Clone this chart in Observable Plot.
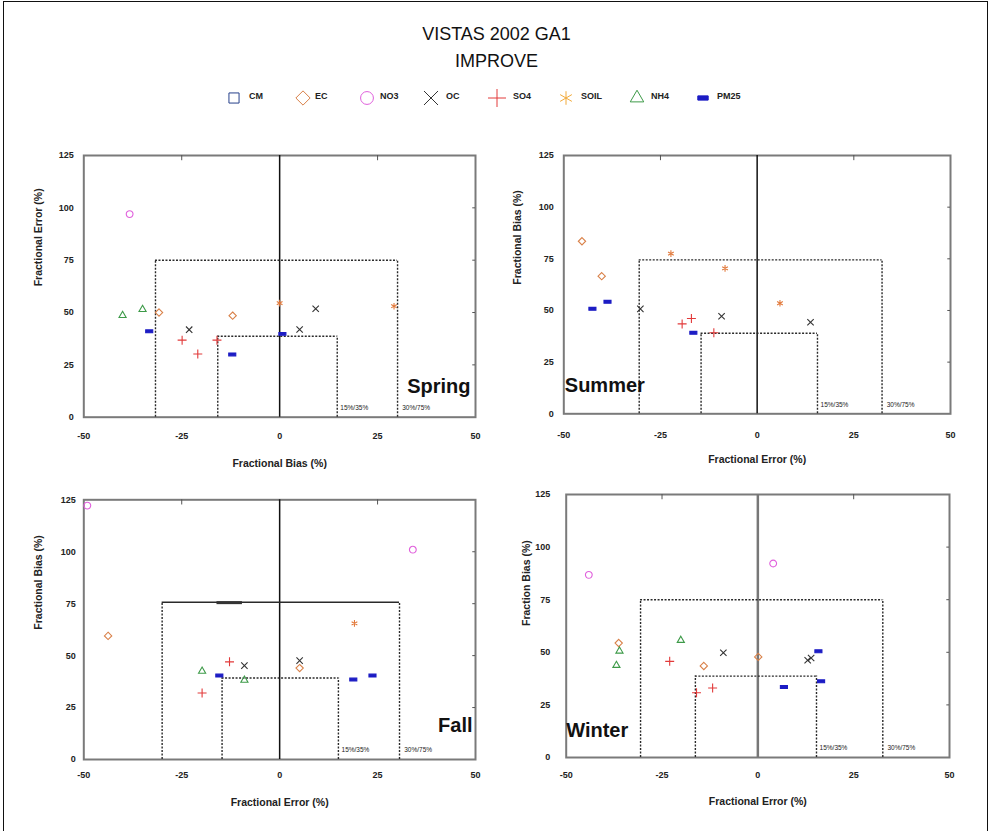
<!DOCTYPE html>
<html>
<head>
<meta charset="utf-8">
<script src="https://cdn.jsdelivr.net/npm/d3@7"></script>
<script src="https://cdn.jsdelivr.net/npm/@observablehq/plot@0.6"></script>
<style>
  html, body { margin: 0; padding: 0; background: #fff; }
  #page { position: relative; width: 993px; height: 831px; overflow: hidden; font-family: "Liberation Sans", Arial, sans-serif; }
  #border { position: absolute; left: 3px; top: 1px; width: 985px; height: 840px; border: 1.5px solid #111; box-sizing: border-box; }
  .title { position: absolute; left: 0; width: 993px; text-align: center; font-size: 18px; color: #111; }
  .leg { position: absolute; top: 89px; }
  .legtext { position: absolute; top: 91px; font-size: 9px; font-weight: bold; color: #222; }
  .panel { position: absolute; }
</style>
</head>
<body>
<div id="page">
  <div id="border"></div>
  <div class="title" style="top:24px">VISTAS 2002 GA1</div>
  <div class="title" style="top:51px">IMPROVE</div>
</div>
<script>
// ---- data ----
const seriesNames = ["CM", "EC", "NO3", "OC", "SO4", "SOIL", "NH4", "PM25"];
const seasons = ["Spring", "Summer", "Fall", "Winter"];
const xTicks = [-50, -25, 0, 25, 50];
const yTicks = [0, 25, 50, 75, 100, 125];
const criteriaLabels = ["15%/35%", "30%/75%"];

// points: [series, bias/error x, y]
const springPoints = [
  ["NO3", -38.3, 97], ["NH4", -40.1, 48.6], ["NH4", -35, 51.5], ["EC", -30.8, 50],
  ["PM25", -33.3, 41], ["OC", -23.1, 41.8], ["SO4", -24.9, 36.8], ["SO4", -20.9, 30.2],
  ["SO4", -16, 36.8], ["EC", -12, 48.5], ["PM25", -12.1, 30], ["SOIL", 0, 54.5],
  ["PM25", 0.7, 39.8], ["OC", 9.2, 51.8], ["OC", 5.1, 41.9], ["SOIL", 29.2, 53]
];
const summerPoints = [
  ["EC", -45.3, 83.5], ["EC", -40.2, 66.6], ["PM25", -42.6, 50.8], ["PM25", -38.7, 54.2],
  ["OC", -30.2, 50.8], ["SOIL", -22.3, 77.5], ["SOIL", -8.3, 70.4], ["SOIL", 5.9, 53.5],
  ["SO4", -19.4, 43.5], ["SO4", -17, 46.1], ["PM25", -16.5, 39.2], ["SO4", -11.2, 39.2],
  ["OC", -9.2, 47.2], ["OC", 13.8, 44.3]
];
const fallPoints = [
  ["NO3", -49.1, 122.2], ["NO3", 34, 101], ["EC", -43.8, 59.5], ["SOIL", 19.1, 65.5],
  ["NH4", -19.8, 42.5], ["SO4", -12.8, 47], ["SO4", -19.8, 32], ["PM25", -15.4, 40.4],
  ["OC", -9, 45.2], ["NH4", -9, 38.2], ["OC", 5.1, 47.6], ["EC", 5.1, 44],
  ["PM25", 18.8, 38.5], ["PM25", 23.7, 40.4]
];
const winterPoints = [
  ["NO3", -44.1, 86.8], ["NO3", 4, 92.2], ["EC", -36.3, 54.4], ["NH4", -36.1, 50.6],
  ["NH4", -36.9, 43.8], ["NH4", -20.1, 55.7], ["SO4", -23, 45.7], ["EC", -14.1, 43.5],
  ["OC", -9, 49.8], ["EC", 0.1, 47.8], ["SO4", -16, 30.8], ["SO4", -11.8, 33],
  ["PM25", 6.8, 33.5], ["OC", 13, 46.2], ["OC", 13.9, 47.3], ["PM25", 15.8, 50.5],
  ["PM25", 16.5, 36.2]
];
// criteria boxes: [left, right, top]
const springOuter = [-31.7, 30.1, 75], springInner = [-15.8, 14.7, 38.7];
const summerOuter = [-30.5, 32.3, 74.5], summerInner = [-14.5, 15.6, 39];
const fallOuter = [-30, 30.6, 75.7], fallInner = [-14.7, 15, 39.2];
const winterOuter = [-30.6, 32.6, 75], winterInner = [-16.3, 15.3, 38.7];

// ---- styles ----
const seriesColors = {
  CM: "#27408b", EC: "#d98048", NO3: "#e060dc", OC: "#333333",
  SO4: "#e23a3a", SOIL: "#e27a3c", NH4: "#3d9a48", PM25: "#1c1cc4"
};
const legendColors = { ...seriesColors, SOIL: "#f2aa3a" };
const dashSymbol = {
  draw(context, size) {
    const r = Math.sqrt(size / Math.PI);
    context.moveTo(-r * 1.1, -r * 0.45);
    context.lineTo(r * 1.1, -r * 0.45);
    context.lineTo(r * 1.1, r * 0.45);
    context.lineTo(-r * 1.1, r * 0.45);
    context.closePath();
  }
};
const plotSymbols = {
  CM: "square2", EC: "diamond2", NO3: "circle", OC: "times",
  SO4: "plus", SOIL: "asterisk", NH4: "triangle2", PM25: dashSymbol
};
const symbolRadius = { CM: 3.2, EC: 3.3, NO3: 3.4, OC: 3, SO4: 3, SOIL: 3.1, NH4: 3.4, PM25: 3.2 };

const page = document.getElementById("page");

// ---- legend ----
const legendIcons = [d3.symbolSquare2, d3.symbolDiamond2, d3.symbolCircle, d3.symbolTimes,
  d3.symbolPlus, d3.symbolAsterisk, d3.symbolTriangle2, dashSymbol];
const legendIconX = [234, 303, 367, 431, 497, 566, 637, 703];
const legendTextX = [249, 315, 380, 446, 513, 581, 651, 717];
seriesNames.forEach((s, i) => {
  const size = i === 7 ? 70 : 130;
  const path = d3.symbol(legendIcons[i], size)();
  const isFill = i === 7;
  const div = document.createElement("div");
  div.className = "leg";
  div.style.left = (legendIconX[i] - 9) + "px";
  div.innerHTML = `<svg width="18" height="18"><path transform="translate(9,9)" d="${path}" fill="${isFill ? legendColors[s] : "none"}" stroke="${legendColors[s]}" stroke-width="1"/></svg>`;
  page.appendChild(div);
  const t = document.createElement("div");
  t.className = "legtext";
  t.style.left = legendTextX[i] + "px";
  t.textContent = s;
  page.appendChild(t);
});

// ---- panels ----
const panels = [
  { name: seasons[0], pts: springPoints, outer: springOuter, inner: springInner,
    xLabel: "Fractional Bias (%)", yLabel: "Fractional Error (%)",
    left: 0, top: 130, width: 490, height: 350, m: [25, 15, 63.3, 83.3],
    xPad: 15, yPad: 10, xLabDy: 46, yLabDx: -45, season: { anchor: "bottom-right", dx: -5, dy: -31 },
    zeroColor: "#111", zeroWidth: 1.5, solidTop: false },
  { name: seasons[1], pts: summerPoints, outer: summerOuter, inner: summerInner,
    xLabel: "Fractional Error (%)", yLabel: "Fractional Bias (%)",
    left: 490, top: 130, width: 490, height: 350, m: [25, 30, 66.7, 73.3],
    xPad: 18, yPad: 10, xLabDy: 46, yLabDx: -46, season: { anchor: "bottom-left", dx: 1, dy: -28 },
    zeroColor: "#111", zeroWidth: 1.5, solidTop: false },
  { name: seasons[2], pts: fallPoints, outer: fallOuter, inner: fallInner,
    xLabel: "Fractional Error (%)", yLabel: "Fractional Bias (%)",
    left: 0, top: 475, width: 490, height: 355, m: [24.3, 15, 71, 83.3],
    xPad: 12, yPad: 8, xLabDy: 43, yLabDx: -45, season: { anchor: "bottom-right", dx: -3, dy: -34 },
    zeroColor: "#111", zeroWidth: 1.5, solidTop: true },
  { name: seasons[3], pts: winterPoints, outer: winterOuter, inner: winterInner,
    xLabel: "Fractional Error (%)", yLabel: "Fraction Bias (%)",
    left: 490, top: 475, width: 490, height: 355, m: [19, 31, 73, 75.7],
    xPad: 14, yPad: 16, xLabDy: 44, yLabDx: -40, season: { anchor: "bottom-left", dx: 0, dy: -27 },
    zeroColor: "#777", zeroWidth: 2.5, solidTop: false }
];

const dash = "2,1.5";
const boxColor = "#2a2a2a";

panels.forEach(p => {
  const rows = p.pts.map(([s, x, y]) => ({ s, x, y }));
  const [oL, oR, oT] = p.outer;
  const [iL, iR, iT] = p.inner;
  const marks = [
    Plot.frame({ stroke: "#7a7a7a", strokeWidth: 2 }),
    Plot.ruleX([-25, 25], { y1: 122.5, y2: 125, stroke: "#555", strokeWidth: 1 }),
    Plot.ruleY([25, 50, 75, 100], { x1: 49.3, x2: 50, stroke: "#555", strokeWidth: 1 }),
    Plot.ruleX([0], { y1: 0, y2: 125, stroke: p.zeroColor, strokeWidth: p.zeroWidth }),
    Plot.ruleX([oL, oR], { y1: 0, y2: oT, stroke: boxColor, strokeWidth: 1.4, strokeDasharray: dash }),
    Plot.ruleY([oT], { x1: oL, x2: oR, stroke: boxColor, strokeWidth: p.solidTop ? 1.6 : 1.4,
      strokeDasharray: p.solidTop ? null : dash }),
    Plot.ruleX([iL, iR], { y1: 0, y2: iT, stroke: boxColor, strokeWidth: 1.4, strokeDasharray: dash }),
    Plot.ruleY([iT], { x1: iL, x2: iR, stroke: boxColor, strokeWidth: 1.4, strokeDasharray: dash }),
    Plot.text([criteriaLabels[0]], { x: iR + 0.8, y: 4.5, text: d => d, textAnchor: "start", fontSize: 6.5, fontWeight: "normal", fill: "#222" }),
    Plot.text([criteriaLabels[1]], { x: oR + 1.2, y: 4.5, text: d => d, textAnchor: "start", fontSize: 6.5, fontWeight: "normal", fill: "#222" })
  ];
  if (p.solidTop) {
    marks.push(Plot.ruleY([oT - 0.2], { x1: -16, x2: -9.5, stroke: "#333", strokeWidth: 3 }));
  }
  seriesNames.forEach(s => {
    const sub = rows.filter(d => d.s === s);
    if (!sub.length) return;
    const isFill = s === "PM25";
    marks.push(Plot.dot(sub, {
      x: "x", y: "y", symbol: () => plotSymbols[s], r: symbolRadius[s],
      stroke: seriesColors[s], fill: isFill ? seriesColors[s] : "none", strokeWidth: 1.1
    }));
  });
  marks.push(
    Plot.axisX({ ticks: xTicks, tickSize: 0, tickPadding: p.xPad, label: null, tickFormat: d => String(d) }),
    Plot.axisY({ ticks: yTicks, tickSize: 0, tickPadding: p.yPad, label: null, tickFormat: d => String(d) }),
    Plot.text([p.xLabel], { frameAnchor: "bottom", dy: p.xLabDy, text: d => d, fontSize: 10.5, fontWeight: "bold", lineAnchor: "middle", fill: "#222" }),
    Plot.text([p.yLabel], { frameAnchor: "left", dx: p.yLabDx, rotate: -90, text: d => d, fontSize: 10.5, fontWeight: "bold", lineAnchor: "middle", fill: "#222" }),
    Plot.text([p.name], { frameAnchor: p.season.anchor, dx: p.season.dx, dy: p.season.dy, text: d => d,
      fontSize: 20, fontWeight: "bold", lineAnchor: "middle", fill: "#111",
      textAnchor: p.season.anchor === "bottom-right" ? "end" : "start" })
  );
  const svg = Plot.plot({
    width: p.width, height: p.height,
    marginTop: p.m[0], marginRight: p.m[1], marginBottom: p.m[2], marginLeft: p.m[3],
    x: { domain: [-50, 50] },
    y: { domain: [0, 125] },
    style: { fontFamily: "'Liberation Sans', Arial, sans-serif", fontSize: "9px", fontWeight: "bold", color: "#222", background: "transparent", overflow: "visible" },
    marks
  });
  const wrap = document.createElement("div");
  wrap.className = "panel";
  wrap.style.left = p.left + "px";
  wrap.style.top = p.top + "px";
  wrap.appendChild(svg);
  page.appendChild(wrap);
});
</script>
</body>
</html>
